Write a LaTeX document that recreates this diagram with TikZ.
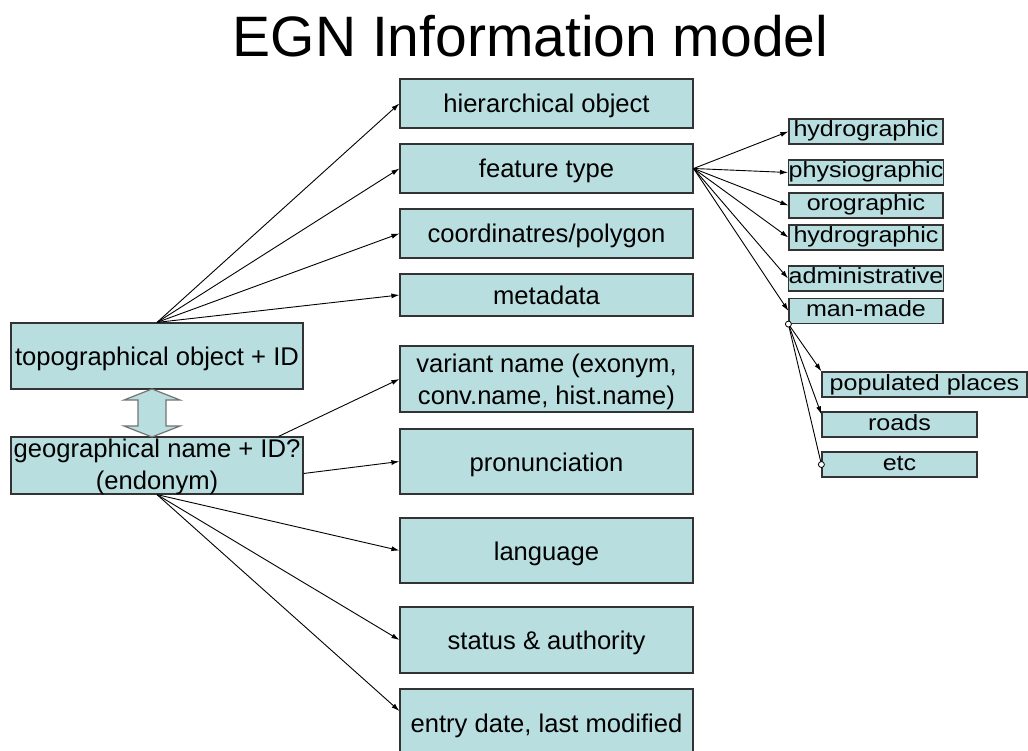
\documentclass[tikz,border=0pt]{standalone}
\usepackage{fontspec}
\setmainfont{Liberation Sans}
\newfontfamily\widefont[FakeStretch=1.14]{Liberation Sans}
\usetikzlibrary{positioning}
\usetikzlibrary{arrows.meta}
\definecolor{boxfill}{RGB}{185,222,224}
\tikzset{
    mybox/.style = {rectangle, draw=black!80, line width=1.2pt, fill=boxfill, inner sep=0pt, align=center, font=\fontsize{25.6}{32}\selectfont},
    oneline/.style = {text height=19pt, text depth=0pt},
    smallbox/.style = {rectangle, draw=black!80, line width=1.2pt, fill=boxfill, inner sep=0pt, minimum height=25pt, text height=18pt, text depth=7pt, font=\widefont\fontsize{22}{24}\selectfont},
    glue/.style = {circle, draw=black, fill=white, inner sep=0pt, minimum size=6pt, line width=0.8pt},
    edgen/.style = {-{Latex[length=8pt,width=5pt]}, line width=0.9pt},
    dblarrow/.style = {fill=boxfill, draw=black!55, line width=1.2pt},
}
\begin{document}
\begin{tikzpicture}[x=1pt,y=-1pt]
\useasboundingbox (0,0) rectangle (1028,751);
%
\node[anchor=base,font=\fontsize{57}{60}\selectfont] at (530.5,57) (title) {EGN Information model};
%
\node[mybox, oneline, minimum width=293pt, minimum height=49pt] at (546.5,103.5) (hier) {hierarchical object};
\node[mybox, oneline, minimum width=293pt, minimum height=49pt] at (546.5,168.5) (feat) {feature type};
\node[mybox, oneline, minimum width=293pt, minimum height=49pt] at (546.5,233.5) (coord) {coordinatres/polygon};
\node[mybox, oneline, minimum width=293pt, minimum height=42pt] at (546.5,295) (meta) {metadata};
\node[mybox, text depth=-1pt, minimum width=293pt, minimum height=66pt] at (546.5,379) (variant) {variant name (exonym,\\conv.name, hist.name)};
\node[mybox, oneline, minimum width=293pt, minimum height=65pt] at (546.5,461.5) (pron) {pronunciation};
\node[mybox, oneline, minimum width=293pt, minimum height=65pt] at (546.5,550.5) (lang) {language};
\node[mybox, oneline, minimum width=293pt, minimum height=66pt] at (546.5,640) (status) {status \& authority};
\node[mybox, oneline, minimum width=293pt, minimum height=68pt] at (546.5,723) (entry) {entry date, last modified};
%
\node[mybox, oneline, minimum width=292pt, minimum height=66pt] at (157,356) (topo) {topographical object + ID};
\node[mybox, text depth=2pt, minimum width=292pt, minimum height=57pt] at (157,465.5) (geo) {geographical name + ID?\\(endonym)};
%
\node[smallbox, minimum width=154pt] at (866,131.5) (hydroa) {hydrographic};
\node[smallbox, minimum width=154pt] at (866,172.5) (phys) {physiographic};
\node[smallbox, minimum width=154pt] at (866,205.5) (oro) {orographic};
\node[smallbox, minimum width=154pt] at (866,237.5) (hydrob) {hydrographic};
\node[smallbox, minimum width=154pt] at (866,278.5) (admin) {administrative};
\node[smallbox, minimum width=154pt] at (866,311) (man) {man-made};
\node[smallbox, minimum width=205pt] at (924.5,384.5) (pop) {populated places};
\node[smallbox, minimum width=155pt] at (899.5,424.5) (roads) {roads};
\node[smallbox, minimum width=155pt] at (899.5,464.5) (etc) {etc};
%
\draw[dblarrow] (152,389) -- (180,400) -- (166,400) -- (166,426) -- (180,426) -- (152,437)
  -- (124,426) -- (138,426) -- (138,400) -- (124,400) -- cycle;
%
\path (topo.north) edge[edgen] node {} (hier.west);
\path (topo.north) edge[edgen] node {} (feat.west);
\path (topo.north) edge[edgen] node {} (coord.west);
\path (topo.north) edge[edgen] node {} (meta.west);
\path ([xshift=-25pt]geo.north east) edge[edgen] node {} (variant.west);
\path ([yshift=-8pt]geo.east) edge[edgen] node {} (pron.west);
\path (geo.south) edge[edgen] node {} (lang.west);
\path (geo.south) edge[edgen] node {} (status.west);
\path (geo.south) edge[edgen] node {} ([yshift=12pt]entry.west);
%
\path (feat.east) edge[edgen] node {} (hydroa.west);
\path (feat.east) edge[edgen] node {} (phys.west);
\path (feat.east) edge[edgen] node {} (oro.west);
\path (feat.east) edge[edgen] node {} (hydrob.west);
\path (feat.east) edge[edgen] node {} (admin.west);
\path (feat.east) edge[edgen] node {} (man.west);
%
\path (man.south west) edge[edgen] node {} (pop.north west);
\path (man.south west) edge[edgen] node {} ([yshift=-3pt]roads.north west);
\draw[line width=0.9pt] (man.south west) -- (etc.west);
\node[glue] at (man.south west) (gluea) {};
\node[glue] at (etc.west) (glueb) {};
\end{tikzpicture}
\end{document}
